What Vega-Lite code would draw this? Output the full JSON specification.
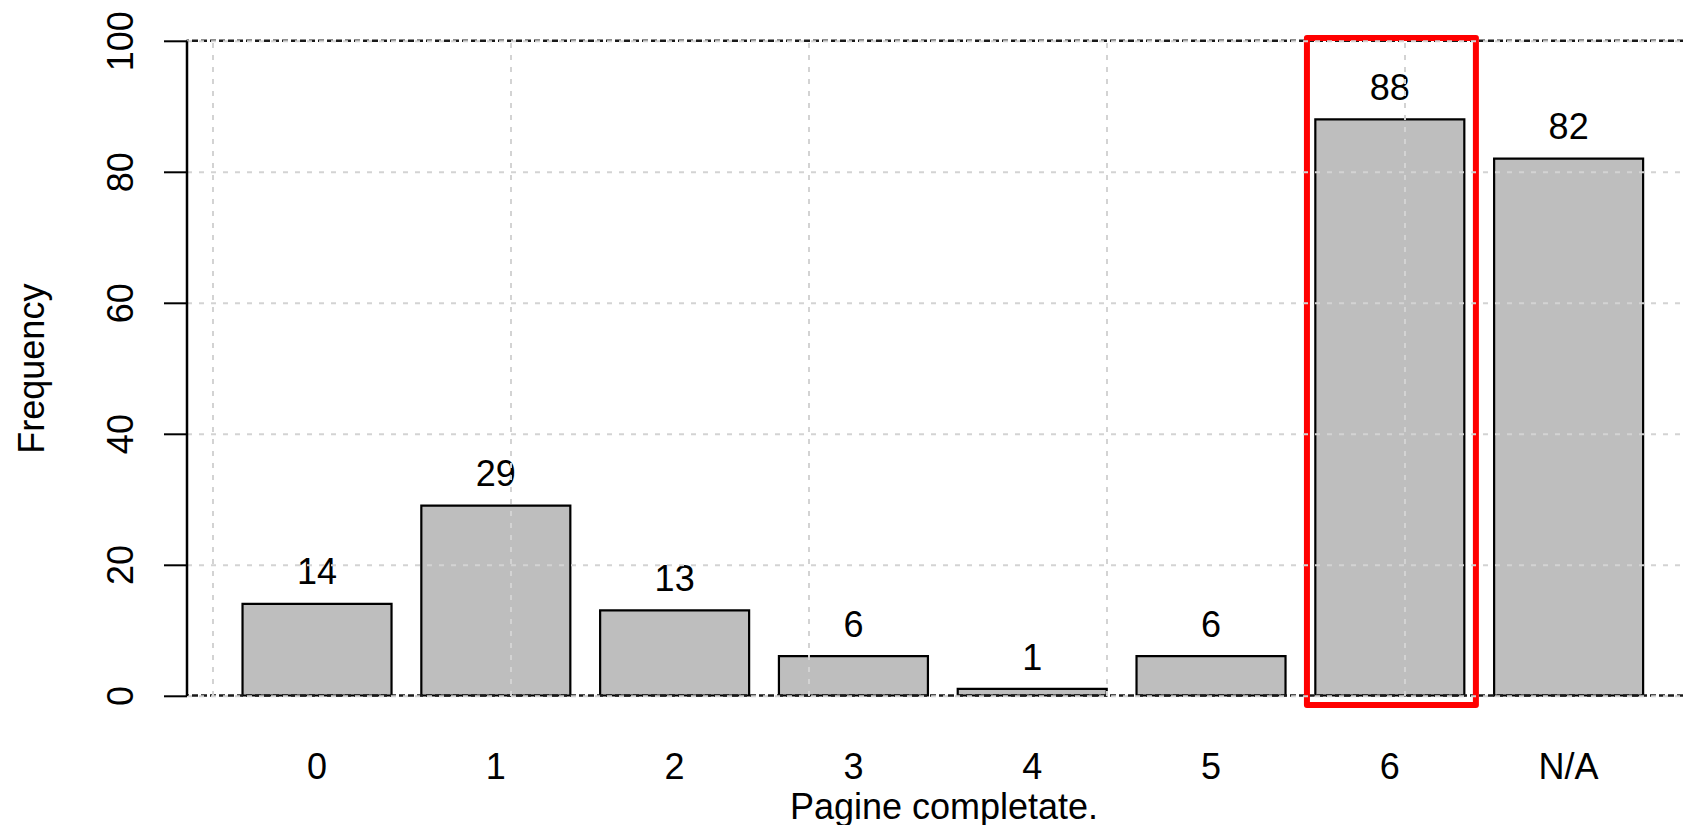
{
  "$schema": "https://vega.github.io/schema/vega-lite/v6.json",
  "width": 1496.5,
  "height": 654.7,
  "autosize": {"type": "none"},
  "padding": {"left": 186.5, "top": 40.8, "right": 0, "bottom": 129.5},
  "background": "white",
  "config": {"view": {"stroke": null}, "font": "Liberation Sans"},
  "data": {
    "values": [
      {"pagine": "0", "freq": 14},
      {"pagine": "1", "freq": 29},
      {"pagine": "2", "freq": 13},
      {"pagine": "3", "freq": 6},
      {"pagine": "4", "freq": 1},
      {"pagine": "5", "freq": 6},
      {"pagine": "6", "freq": 88},
      {"pagine": "N/A", "freq": 82}
    ]
  },
  "layer": [
    {
      "layer": [
        {
          "mark": {"type": "bar", "fill": "#bebebe", "stroke": "black", "strokeWidth": 2.2},
          "encoding": {
            "x": {
              "field": "pagine", "type": "ordinal", "sort": null,
              "scale": {"paddingInner": 0.166667, "paddingOuter": 0.2682, "align": 0.5842},
              "axis": {
                "title": "Pagine completate.",
                "titleFont": "Liberation Sans", "titleFontSize": 36, "titleFontWeight": "normal", "titleColor": "black",
                "titleX": 757, "titleY": 122.5, "titleBaseline": "alphabetic", "titleAlign": "center", "titleAnchor": null,
                "labelFont": "Liberation Sans", "labelFontSize": 36, "labelColor": "black", "labelAngle": 0,
                "labelBaseline": "alphabetic", "labelAlign": "center", "labelPadding": 82.5,
                "ticks": false, "tickSize": 0, "domain": false, "grid": false
              }
            },
            "y": {
              "field": "freq", "type": "quantitative",
              "scale": {"domain": [0, 100], "nice": false},
              "axis": {
                "values": [0, 20, 40, 60, 80, 100],
                "title": "Frequency",
                "titleFont": "Liberation Sans", "titleFontSize": 36, "titleFontWeight": "normal", "titleColor": "black",
                "titleAngle": 270, "titleX": -143.5, "titleY": 327.35, "titleBaseline": "alphabetic", "titleAlign": "center", "titleAnchor": null,
                "labelFont": "Liberation Sans", "labelFontSize": 36, "labelColor": "black", "labelAngle": 270,
                "labelAlign": "center", "labelBaseline": "alphabetic", "labelPadding": 31.5,
                "tickSize": 23, "tickWidth": 2, "tickColor": "black",
                "domainColor": "black", "domainWidth": 2.5,
                "grid": true, "gridColor": "#d3d3d3", "gridDash": [5, 7], "gridWidth": 2,
                "zindex": 1
              }
            }
          }
        },
        {
          "mark": {"type": "text", "baseline": "alphabetic", "align": "center", "dy": -19.4, "fontSize": 36, "font": "Liberation Sans", "color": "black"},
          "encoding": {
            "x": {"field": "pagine", "type": "ordinal", "sort": null},
            "y": {"field": "freq", "type": "quantitative"},
            "text": {"field": "freq", "type": "quantitative"}
          }
        }
      ]
    },
    {
      "data": {"values": [{}]},
      "mark": {"type": "rule", "stroke": "#1a1a1a", "strokeDash": [6, 3], "strokeWidth": 2.5},
      "encoding": {"y": {"datum": 0, "type": "quantitative"}}
    },
    {
      "data": {"values": [{}]},
      "mark": {"type": "rule", "stroke": "#1a1a1a", "strokeDash": [6, 3], "strokeWidth": 2.5},
      "encoding": {"y": {"datum": 100, "type": "quantitative"}}
    },
    {
      "data": {"values": [{}]},
      "mark": {"type": "rect", "fillOpacity": 0, "fill": "white", "stroke": "#ff0000", "strokeWidth": 6, "strokeJoin": "round"},
      "encoding": {
        "x": {
          "datum": 7.344, "type": "quantitative",
          "scale": {"domain": [-0.176, 9.868], "nice": false, "zero": false},
          "axis": {
            "orient": "top", "values": [0, 2, 4, 6, 8], "title": null,
            "labels": false, "ticks": false, "domain": false,
            "grid": true, "gridColor": "#d3d3d3", "gridDash": [5, 7], "gridWidth": 2, "zindex": 1
          }
        },
        "x2": {"datum": 8.478},
        "y": {"datum": -1.45, "type": "quantitative"},
        "y2": {"datum": 100.43}
      }
    }
  ],
  "resolve": {"scale": {"x": "independent"}, "axis": {"x": "independent"}}
}
